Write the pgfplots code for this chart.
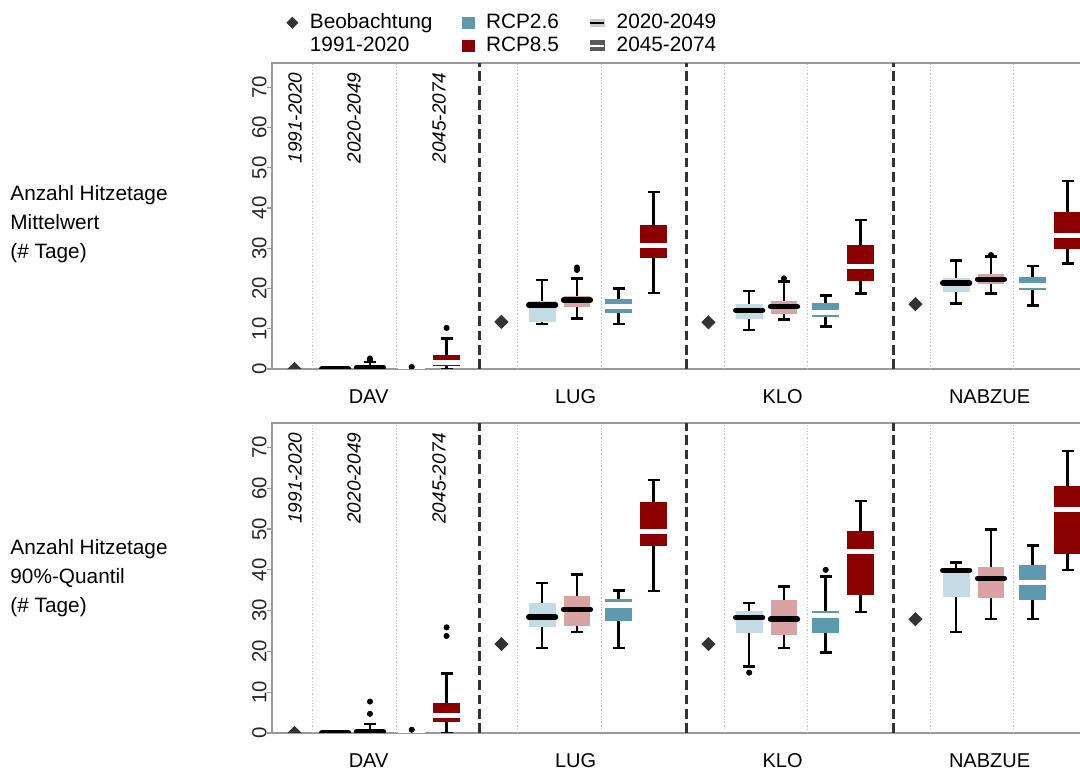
\documentclass[border=0pt]{standalone}
\usepackage{fontspec}
\setmainfont{Liberation Sans}
\usepackage{pgfplots}
\pgfplotsset{compat=1.18}
\usepgfplotslibrary{statistics}
\definecolor{c26l}{HTML}{C5DBE3}
\definecolor{c85l}{HTML}{D9A3A6}
\definecolor{c26}{HTML}{5F99AE}
\definecolor{c85}{HTML}{8B0000}
\definecolor{obs}{HTML}{333333}
\definecolor{axgray}{HTML}{999999}

\newcommand{\bx}[7]{\addplot[boxplot prepared={draw position=#1, lower whisker=#2, lower quartile=#3, median=#4, upper quartile=#5, upper whisker=#6}, #7] coordinates {};}

\pgfplotsset{
  bA/.style={boxplot/every box/.style={fill=c26l,draw=none}, boxplot/every median/.style={black,line width=2.7pt,line cap=round}},
  bB/.style={boxplot/every box/.style={fill=c85l,draw=none}, boxplot/every median/.style={black,line width=2.7pt,line cap=round}},
  bC/.style={boxplot/every box/.style={fill=c26,draw=none}, boxplot/every median/.style={white,line width=2.6pt}},
  bD/.style={boxplot/every box/.style={fill=c85,draw=none}, boxplot/every median/.style={white,line width=2.6pt}},
  panel/.style={
    scale only axis, width=424pt, xmin=0, xmax=24.58, ymin=0, ymax=76,
    axis line style={axgray, line width=0.6pt},
    xtick={2.8,8.8,14.8,20.8}, xticklabels={DAV,LUG,KLO,NABZUE},
    x tick style={draw=none},
    xticklabel style={anchor=north, inner sep=0pt, yshift=-7.5pt, font=\fontsize{10}{12}\selectfont},
    ytick={0,10,...,70}, ytick pos=left, tick align=outside, major tick length=2.5pt,
    y tick style={axgray, line width=0.6pt},
    yticklabel style={rotate=90, anchor=south, inner sep=0pt, font=\fontsize{10.2}{12}\selectfont, text=black!85},
    /pgf/number format/assume math mode=true,
    clip marker paths=true,
    boxplot/draw direction=y,
    boxplot/box extend=0.78, boxplot/whisker extend=0.35,
    boxplot/every whisker/.style={black, line width=1.3pt},
  },
  obsmark/.style={only marks, mark=square*, mark options={rotate=45}, mark size=2.3pt, color=obs},
  outl/.style={only marks, mark=*, mark size=1.3pt, black},
}

\newcommand{\gridlines}{%
  \pgfplotsinvokeforeach{1.16,3.62,7.13,9.54,13.11,15.51,19.09,21.49}{\draw[gray!55, line width=0.5pt, dash pattern=on 0.6pt off 1pt] (axis cs:##1,0) -- (axis cs:##1,76);}
  \pgfplotsinvokeforeach{6,12,18}{\draw[obs, line width=1.5pt, dash pattern=on 4.8pt off 2.4pt] (axis cs:##1,0) -- (axis cs:##1,76);}
  \node[rotate=90, anchor=east, inner sep=0pt, font=\fontsize{9.5}{11}\selectfont\itshape] at (axis cs:0.67,73.7) {1991-2020};
  \node[rotate=90, anchor=east, inner sep=0pt, font=\fontsize{9.5}{11}\selectfont\itshape] at (axis cs:2.38,73.7) {2020-2049};
  \node[rotate=90, anchor=east, inner sep=0pt, font=\fontsize{9.5}{11}\selectfont\itshape] at (axis cs:4.84,73.7) {2045-2074};
}

\begin{document}
\begin{tikzpicture}[x=1pt,y=1pt]
\path[use as bounding box] (0,0) rectangle (540,384.5);

% ---------------- top panel: Mittelwert
\begin{axis}[panel, at={(136pt,200pt)}, anchor=south west, height=153pt,
  legend columns=3, legend cell align=left,
  legend style={at={(0.0171,1.1624)}, anchor=north west, draw=none, fill=none,
    inner sep=0pt, outer sep=0pt, row sep=2pt,
    font=\fontsize{10.4}{12}\selectfont,
    nodes={inner sep=0pt, text height=7.5pt, text depth=2pt},
    /tikz/every even column/.append style={column sep=15pt},
    /tikz/every odd column/.append style={column sep=5.8pt}}]
\addlegendimage{legend image code/.code={\fill[obs,rotate=45] (-1.94pt,-1.94pt) rectangle (1.94pt,1.94pt);}}
\addlegendentry{Beobachtung}
\addlegendimage{legend image code/.code={\fill[c26] (-2.8pt,-2.8pt) rectangle (2.8pt,2.8pt);}}
\addlegendentry{RCP2.6}
\addlegendimage{legend image code/.code={\fill[gray!40] (-3.5pt,-1.9pt) rectangle (3.5pt,1.9pt); \draw[black,line width=1.1pt] (-3.5pt,0) -- (3.5pt,0);}}
\addlegendentry{2020-2049}
\addlegendimage{empty legend}
\addlegendentry{1991-2020}
\addlegendimage{legend image code/.code={\fill[c85] (-2.8pt,-2.8pt) rectangle (2.8pt,2.8pt);}}
\addlegendentry{RCP8.5}
\addlegendimage{legend image code/.code={\fill[black!65] (-3.5pt,-2.5pt) rectangle (3.5pt,2.5pt); \draw[white,line width=0.9pt] (-3.5pt,0) -- (3.5pt,0);}}
\addlegendentry{2045-2074}

\gridlines
% DAV
\bx{1.83}{0}{0}{0}{0}{0}{bA}
\bx{2.84}{0}{0}{0.3}{0.7}{1.7}{bB}
\bx{4.05}{0}{0}{0}{0}{0}{bC}
\bx{5.06}{0}{0.7}{1.6}{3.5}{7.6}{bD}
% LUG
\bx{7.83}{11.2}{11.7}{15.9}{16.9}{22.1}{bA}
\bx{8.84}{12.6}{15.5}{17.1}{18.2}{22.5}{bB}
\bx{10.05}{11.2}{13.8}{15.6}{17.5}{20.0}{bC}
\bx{11.06}{18.9}{27.5}{30.7}{35.7}{44.0}{bD}
% KLO
\bx{13.83}{9.7}{12.3}{14.6}{16.1}{19.4}{bA}
\bx{14.84}{12.3}{13.6}{15.5}{16.9}{21.7}{bB}
\bx{16.05}{10.5}{13.0}{14.1}{16.3}{18.2}{bC}
\bx{17.06}{18.8}{21.8}{25.5}{30.8}{37.0}{bD}
% NABZUE
\bx{19.83}{16.3}{19.2}{21.4}{22.7}{27.0}{bA}
\bx{20.84}{18.8}{21.2}{22.3}{23.7}{27.9}{bB}
\bx{22.05}{15.7}{19.6}{20.8}{22.9}{25.6}{bC}
\bx{23.06}{26.2}{29.7}{33.2}{39.0}{46.7}{bD}
\addplot[outl] coordinates {(2.84,2.1) (2.84,2.6) (4.05,0.5) (5.06,10.2) (8.84,24.6) (8.84,25.2) (14.84,22.5) (20.84,28.3)};
\addplot[obsmark] coordinates {(0.65,0) (6.65,11.7) (12.65,11.6) (18.65,16.1)};
\end{axis}

% ---------------- bottom panel: 90%-Quantil
\begin{axis}[panel, at={(136pt,18pt)}, anchor=south west, height=155pt]
\gridlines
% DAV
\bx{1.83}{0}{0}{0}{0}{0}{bA}
\bx{2.84}{0}{0}{0.3}{0.8}{2.2}{bB}
\bx{4.05}{0}{0}{0}{0}{0}{bC}
\bx{5.06}{0}{2.8}{4.2}{7.3}{14.6}{bD}
% LUG
\bx{7.83}{20.8}{25.9}{28.4}{31.8}{36.8}{bA}
\bx{8.84}{24.8}{26.2}{30.3}{33.7}{38.9}{bB}
\bx{10.05}{20.8}{27.5}{31.4}{32.8}{34.9}{bC}
\bx{11.06}{34.8}{45.8}{49.4}{56.7}{62.0}{bD}
% KLO
\bx{13.83}{16.3}{24.4}{28.3}{30.0}{31.9}{bA}
\bx{14.84}{20.8}{24.0}{27.9}{32.6}{35.9}{bB}
\bx{16.05}{19.8}{24.4}{28.8}{30.0}{38.3}{bC}
\bx{17.06}{29.7}{33.8}{44.4}{49.6}{56.9}{bD}
% NABZUE
\bx{19.83}{24.8}{33.4}{39.9}{40.4}{41.8}{bA}
\bx{20.84}{27.9}{33.0}{37.9}{40.6}{49.9}{bB}
\bx{22.05}{27.9}{32.6}{36.8}{41.2}{45.9}{bC}
\bx{23.06}{40.0}{43.9}{54.8}{60.6}{69.1}{bD}
\addplot[outl] coordinates {(2.84,4.7) (2.84,7.7) (4.05,0.8) (5.06,23.8) (5.06,25.9) (13.83,14.8) (16.05,40.0)};
\addplot[obsmark] coordinates {(0.65,0) (6.65,21.8) (12.65,21.8) (18.65,27.9)};
\end{axis}

% ---------------- row labels
\begin{scope}[every node/.style={anchor=base west, inner sep=0pt, font=\fontsize{10.4}{12}\selectfont}]
\node at (5,284) {Anzahl Hitzetage};
\node at (5,269.5) {Mittelwert};
\node at (5,255) {(\# Tage)};
\node at (5,107) {Anzahl Hitzetage};
\node at (5,92.5) {90\%-Quantil};
\node at (5,78) {(\# Tage)};
\end{scope}
\end{tikzpicture}
\end{document}
